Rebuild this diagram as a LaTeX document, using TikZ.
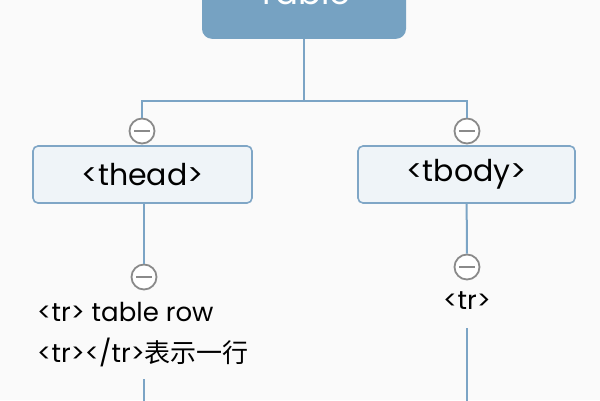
\documentclass[tikz,border=0pt]{standalone}
\usepackage{fontspec}
\setmainfont{Poppins}
\newfontfamily\cjk{Noto Sans CJK SC}
\definecolor{rootblue}{HTML}{76A2C2}
\definecolor{linkblue}{HTML}{7BA4C5}
\definecolor{boxfill}{HTML}{EFF4F8}
\definecolor{boxline}{HTML}{7FA6C6}
\definecolor{togglegray}{HTML}{8A8A8A}
\definecolor{paper}{HTML}{FAFAFA}
\begin{document}
\begin{tikzpicture}
    [
    x=1pt,y=-1pt,
    link/.style={draw=linkblue,line width=2pt},
    root/.style={rectangle,fill=rootblue,text=white,rounded corners=10pt,minimum width=204pt,inner ysep=34pt,font=\fontsize{34}{38}\selectfont},
    tag/.style={rectangle,draw=boxline,fill=boxfill,line width=1.6pt,rounded corners=5pt,minimum height=57pt,font=\fontsize{30}{34}\selectfont},
    toggle/.style={circle,draw=togglegray,fill=white,line width=1.8pt,inner sep=0pt,minimum size=25pt,
      path picture={\draw[togglegray,line width=1.8pt] ([xshift=-8pt]path picture bounding box.center) -- ([xshift=8pt]path picture bounding box.center);}},
    leaf/.style={inner sep=0pt,font=\fontsize{26}{30}\selectfont}
    ]
    \clip (0,0) rectangle (600,400);
    \fill[paper] (0,0) rectangle (600,400);
    \node (table) at (304,39) [root,anchor=south] {Table};
    \coordinate (fork) at (304,101);
    \node (t1) at (142,131) [toggle] {};
    \node (t2) at (467,131) [toggle] {};
    \node (thead) at (142.5,174.5) [tag,minimum width=219pt] {<thead>};
    \node (tbody) at (466.5,174.5) [tag,minimum width=217pt] {<tbody>};
    \node (t3) at (144,277) [toggle] {};
    \node (t4) at (467,267) [toggle] {};
    \node (trrow) at (37,321) [leaf,anchor=base west] {<tr> table row};
    \node (trpair) at (37,362) [leaf,anchor=base west] {<tr></tr>{\cjk 表示一行}};
    \node (tr) at (467,309) [leaf,anchor=base] {<tr>};
    \coordinate (ltail) at (144,379);
    \coordinate (lend) at (144,410);
    \coordinate (rtail) at (467,328);
    \coordinate (rend) at (467,410);
    \draw [link] (table) -- (fork);
    \draw [link] (fork) -| (t1);
    \draw [link] (fork) -| (t2);
    \draw [link] (thead.south -| t3) -- (t3);
    \draw [link] (tbody) -- (t4);
    \draw [link] (ltail) -- (lend);
    \draw [link] (rtail) -- (rend);
  \end{tikzpicture}
\end{document}
